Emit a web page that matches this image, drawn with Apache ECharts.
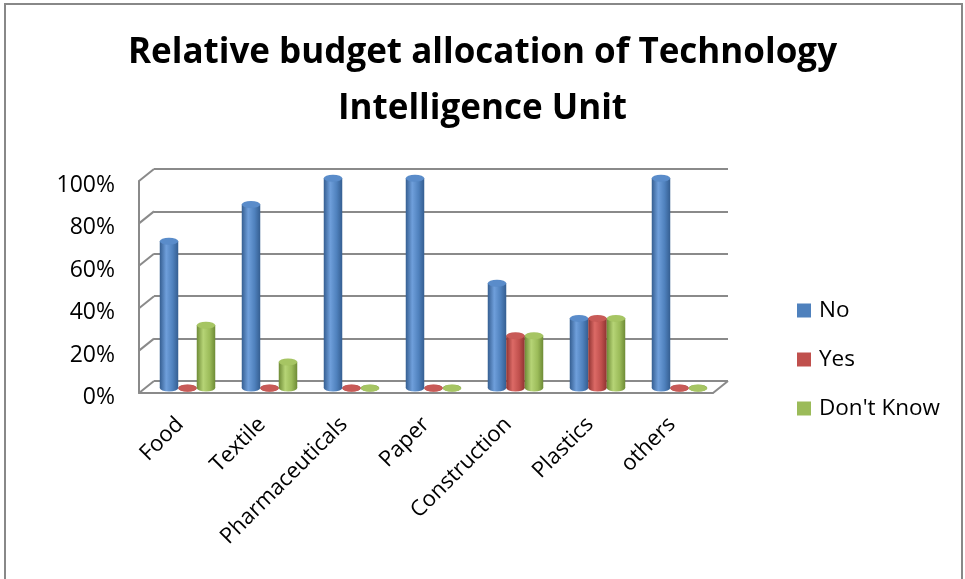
<!DOCTYPE html>
<html>
<head>
<meta charset="utf-8">
<title>Relative budget allocation of Technology Intelligence Unit</title>
<script src="https://cdn.jsdelivr.net/npm/echarts@6/dist/echarts.min.js"></script>
<style>
  html, body { margin: 0; padding: 0; background: #fff; }
  #chart { width: 965px; height: 579px; }
</style>
</head>
<body>
<div id="chart"></div>
<script>
// Sectors on the category axis
const categories = ['Food', 'Textile', 'Pharmaceuticals', 'Paper', 'Construction', 'Plastics', 'others'];
// Share of answers per sector (percent)
const noValues = [70, 87.5, 100, 100, 50, 33.3, 100];
const yesValues = [0, 0, 0, 0, 25, 33.3, 0];
const dontKnowValues = [30, 12.5, 0, 0, 25, 33.3, 0];
const seriesNames = ['No', 'Yes', "Don't Know"];
// Value axis ticks
const yTicks = [0, 20, 40, 60, 80, 100];

const FONT = '"Open Sans", Lato, sans-serif';
const BAR_W = 18.5;
const GRID_LINE = '#8a8a8a';

// Cylinder palettes
const palettes = [
  { base: '#4f81bd', dark: '#355e91', light: '#6f9fdb', cap: '#5a8cca', capEdge: '#3b6698' },
  { base: '#c0504d', dark: '#8f3331', light: '#dc6a66', cap: '#c85a57', capEdge: '#9a3835' },
  { base: '#9bbb59', dark: '#6e8b36', light: '#b6d476', cap: '#a6c563', capEdge: '#789640' }
];
const valueSets = [noValues, yesValues, dontKnowValues];
const offsets = [-BAR_W, 0, BAR_W];

function cylinderFill(p) {
  return new echarts.graphic.LinearGradient(0, 0, 1, 0, [
    { offset: 0, color: p.dark },
    { offset: 0.35, color: p.light },
    { offset: 0.7, color: p.base },
    { offset: 1, color: p.dark }
  ]);
}

const series = [];
// legend entries (flat colour swatches, no marks of their own)
seriesNames.forEach((n, i) => {
  series.push({
    name: n, type: 'bar', xAxisIndex: 0, yAxisIndex: 0, data: [],
    itemStyle: { color: palettes[i].base }
  });
});
valueSets.forEach((vals, i) => {
  const p = palettes[i];
  // cylinder body
  series.push({
    type: 'bar',
    xAxisIndex: 1, yAxisIndex: 1,
    data: vals,
    barWidth: BAR_W,
    barGap: '0%',
    z: 3,
    itemStyle: { color: cylinderFill(p) },
    emphasis: { disabled: true }
  });
  // rounded base
  series.push({
    type: 'pictorialBar',
    xAxisIndex: 1, yAxisIndex: 1,
    data: vals,
    symbol: 'circle',
    symbolSize: [BAR_W, 7],
    symbolPosition: 'start',
    symbolOffset: [offsets[i], '50%'],
    z: 2,
    itemStyle: { color: cylinderFill(p) },
    emphasis: { disabled: true },
    silent: true
  });
  // top cap
  series.push({
    type: 'pictorialBar',
    xAxisIndex: 1, yAxisIndex: 1,
    data: vals,
    symbol: 'circle',
    symbolSize: [BAR_W, 7],
    symbolPosition: 'end',
    symbolOffset: [offsets[i], '-50%'],
    z: 4,
    itemStyle: { color: p.cap, borderColor: p.capEdge, borderWidth: 1 },
    emphasis: { disabled: true },
    silent: true
  });
});

const chart = echarts.init(document.getElementById('chart'), null, { renderer: 'canvas' });

const option = {
  animation: false,
  backgroundColor: '#ffffff',
  title: {
    text: 'Relative budget allocation of Technology\nIntelligence Unit',
    left: 'center',
    top: 20,
    textStyle: {
      fontFamily: FONT, fontWeight: 'bold', fontSize: 35, color: '#000',
      lineHeight: 56
    }
  },
  legend: {
    data: seriesNames,
    orient: 'vertical',
    left: 797,
    top: 299,
    padding: 0,
    itemWidth: 14,
    itemHeight: 14,
    itemGap: 26,
    icon: 'rect',
    textStyle: { fontFamily: FONT, fontSize: 22.5, color: '#000', padding: [0, 0, 0, 3] }
  },
  grid: [
    // back wall
    { left: 154, top: 169, width: 574, height: 212 },
    // bar depth plane
    { left: 146.5, top: 178, width: 574, height: 210 },
    // front edge
    { left: 139, top: 181, width: 574, height: 212 },
    // value labels, set just below the front edge
    { left: 139, top: 185.5, width: 574, height: 212 }
  ],
  xAxis: [
    { gridIndex: 0, type: 'category', data: categories, show: false },
    { gridIndex: 1, type: 'category', data: categories, show: false },
    {
      gridIndex: 2, type: 'category', data: categories,
      axisLine: { show: true, lineStyle: { color: GRID_LINE, width: 2 } },
      axisTick: { show: false },
      axisLabel: {
        rotate: 45, margin: 28, interval: 0,
        fontFamily: FONT, fontSize: 22, color: '#000'
      }
    },
    { gridIndex: 3, type: 'category', data: categories, show: false }
  ],
  yAxis: [
    {
      gridIndex: 0, type: 'value', min: 0, max: 100, interval: 20,
      axisLine: { show: false }, axisTick: { show: false }, axisLabel: { show: false },
      splitLine: { show: true, lineStyle: { color: GRID_LINE, width: 2 } }
    },
    { gridIndex: 1, type: 'value', min: 0, max: 100, interval: 20, show: false, splitLine: { show: false } },
    {
      gridIndex: 2, type: 'value', min: 0, max: 100, interval: 20,
      axisLine: { show: true, lineStyle: { color: GRID_LINE, width: 2 } },
      axisTick: { show: false },
      splitLine: { show: false },
      axisLabel: { show: false }
    },
    {
      gridIndex: 3, type: 'value', min: 0, max: 100, interval: 20,
      axisLine: { show: false }, axisTick: { show: false }, splitLine: { show: false },
      axisLabel: {
        formatter: '{value}%', margin: 24,
        fontFamily: FONT, fontSize: 23, color: '#000'
      }
    }
  ],
  series: series
};

chart.setOption(option);

// Side wall and floor edges joining the front axis to the back wall
function frameLines() {
  const lines = [];
  const style = { stroke: GRID_LINE, lineWidth: 2 };
  const gridF = chart.getModel().getComponent('grid', 2).coordinateSystem.getRect();
  const gridB = chart.getModel().getComponent('grid', 0).coordinateSystem.getRect();
  yTicks.forEach(v => {
    const f = chart.convertToPixel({ gridIndex: 2 }, [0, v]);
    const b = chart.convertToPixel({ gridIndex: 0 }, [0, v]);
    lines.push({
      type: 'line', z: 1, silent: true,
      shape: { x1: gridF.x, y1: f[1], x2: gridB.x, y2: b[1] },
      style: style
    });
  });
  // right floor edge
  lines.push({
    type: 'line', z: 1, silent: true,
    shape: { x1: gridF.x + gridF.width, y1: gridF.y + gridF.height, x2: gridB.x + gridB.width, y2: gridB.y + gridB.height },
    style: style
  });
  // outer chart border
  lines.push({
    type: 'rect', z: 0, silent: true,
    shape: { x: 5, y: 4, width: 957, height: 600 },
    style: { fill: null, stroke: '#888888', lineWidth: 2 }
  });
  return lines;
}

chart.setOption({ graphic: { elements: frameLines() } });
</script>
</body>
</html>
